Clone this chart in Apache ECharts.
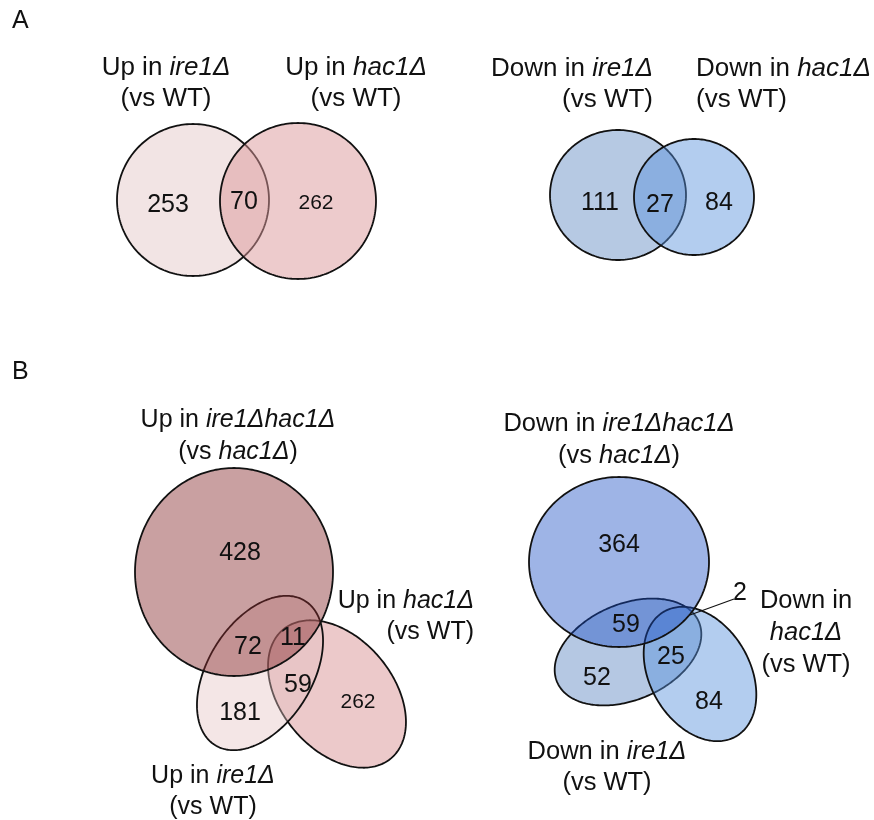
<!DOCTYPE html>
<html>
<head>
<meta charset="utf-8">
<script src="https://cdn.jsdelivr.net/npm/echarts@6/dist/echarts.min.js"></script>
<style>
  html, body { margin: 0; padding: 0; background: #ffffff; }
  #chart { width: 874px; height: 820px; }
</style>
</head>
<body>
<div id="chart"></div>
<script>
// ---- Gene counts per Venn region ----
// A, up vs WT: [ire1Δ only, ire1Δ ∩ hac1Δ, hac1Δ only]
const upPairCounts = [253, 70, 262];
// A, down vs WT: [ire1Δ only, ire1Δ ∩ hac1Δ, hac1Δ only]
const downPairCounts = [111, 27, 84];
// B, up: [ire1Δhac1Δ only, ire1Δhac1Δ ∩ ire1Δ, all three, ire1Δ only, ire1Δ ∩ hac1Δ, hac1Δ only]
const upTripleCounts = [428, 72, 11, 181, 59, 262];
// B, down: [ire1Δhac1Δ only, ire1Δhac1Δ ∩ ire1Δ, all three, ire1Δ only, ire1Δ ∩ hac1Δ, hac1Δ only]
const downTripleCounts = [364, 59, 2, 52, 25, 84];

// ---- Set names (one entry per text line, {i|...} = italic genotype) ----
const upPairNames = [['Up in {i|ire1Δ}', '(vs WT)'], ['Up in {i|hac1Δ}', '(vs WT)']];
const downPairNames = [['Down in {i|ire1Δ}', '(vs WT)'], ['Down in {i|hac1Δ}', '(vs WT)']];
const upTripleNames = [['Up in {i|ire1Δhac1Δ}', '(vs {i|hac1Δ})'], ['Up in {i|hac1Δ}', '(vs WT)'], ['Up in {i|ire1Δ}', '(vs WT)']];
const downTripleNames = [['Down in {i|ire1Δhac1Δ}', '(vs {i|hac1Δ})'], ['Down in', '{i|hac1Δ}', '(vs WT)'], ['Down in {i|ire1Δ}', '(vs WT)']];
const panelLetters = ['A', 'B'];

// ---- Diagram layout (plot units = pixels of the 874 x 820 canvas) ----
const FONT = '"Liberation Sans", Arial, Helvetica, sans-serif';
const STROKE = '#111111';

// Ellipses in drawing order: centre, semi-axes, rotation (deg, clockwise)
const shapes = [
  // A, up
  { cx: 193, cy: 200, rx: 76, ry: 76, rot: 0, fill: '#f2e4e4' },
  { cx: 298, cy: 201, rx: 78, ry: 78, rot: 0, fill: 'rgba(219,152,154,0.5)' },
  // A, down
  { cx: 618, cy: 195, rx: 68, ry: 65, rot: 0, fill: '#b6c9e3' },
  { cx: 694, cy: 197, rx: 60, ry: 58, rot: 0, fill: 'rgba(86,144,219,0.45)' },
  // B, up: hac1Δ, ire1Δ, ire1Δhac1Δ
  { cx: 337, cy: 694, rx: 84, ry: 56, rot: 50, fill: '#ecc9ca' },
  { cx: 260, cy: 673, rx: 85, ry: 52, rot: -58, fill: 'rgba(228,192,192,0.4)' },
  { cx: 234, cy: 572, rx: 99, ry: 104, rot: 0, fill: 'rgba(135,44,46,0.45)' },
  // B, down: ire1Δ, hac1Δ, ire1Δhac1Δ
  { cx: 628, cy: 652, rx: 77, ry: 48, rot: -23, fill: '#b5c8e3' },
  { cx: 700, cy: 674, rx: 72, ry: 50, rot: 60, fill: 'rgba(86,144,219,0.45)' },
  { cx: 619, cy: 562, rx: 90, ry: 85, rot: 0, fill: 'rgba(24,76,196,0.42)' }
];

// Count label anchor points (x, y, font size), aligned with the count arrays
const upPairPos = [[168, 205, 25], [244, 202, 25], [316, 203, 21]];
const downPairPos = [[600, 203, 25], [660, 205, 25], [719, 203, 25]];
const upTriplePos = [[240, 553, 25], [248, 647, 25], [293, 638, 25], [240, 713, 25], [298, 685, 25], [358, 702, 21]];
const downTriplePos = [[619, 545, 25], [626, 625, 25], [740, 593, 25], [597, 678, 25], [671, 657, 25], [709, 702, 25]];

// Set-name anchors: x, y of first line, line step, alignment, font size
const upPairNamePos = [[166, 68, 31, 'center', 26], [356, 68, 31, 'center', 26]];
const downPairNamePos = [[653, 69, 31, 'right', 26], [696, 69, 31, 'left', 26]];
const upTripleNamePos = [[238, 420, 32, 'center', 25], [474, 601, 31, 'right', 25], [213, 776, 31, 'center', 25]];
const downTripleNamePos = [[619, 424, 32, 'center', 25.5], [806, 601, 32, 'center', 25.5], [607, 752, 31, 'center', 25.5]];
const letterPos = [[12, 21], [12, 372]];

// Leader from the "2" label to the small three-way region
const leader = [[734, 599], [690, 615]];

// ---- Build series data ----
const countItems = [];
[[upPairCounts, upPairPos], [downPairCounts, downPairPos],
 [upTripleCounts, upTriplePos], [downTripleCounts, downTriplePos]].forEach(([counts, pos]) => {
  counts.forEach((v, k) => countItems.push([pos[k][0], pos[k][1], v, pos[k][2]]));
});

const nameItems = [];
[[upPairNames, upPairNamePos], [downPairNames, downPairNamePos],
 [upTripleNames, upTripleNamePos], [downTripleNames, downTripleNamePos]].forEach(([names, pos]) => {
  names.forEach((lines, k) => {
    lines.forEach((line, j) => {
      nameItems.push({ value: [pos[k][0], pos[k][1] + j * pos[k][2]], text: line, align: pos[k][3], size: pos[k][4] });
    });
  });
});

function ellipsePoints(api, s) {
  const pts = [];
  const th = s.rot * Math.PI / 180;
  const c = Math.cos(th), sn = Math.sin(th);
  const n = 240;
  for (let k = 0; k < n; k++) {
    const t = (k / n) * 2 * Math.PI;
    const ex = s.rx * Math.cos(t), ey = s.ry * Math.sin(t);
    pts.push(api.coord([s.cx + ex * c - ey * sn, s.cy + ex * sn + ey * c]));
  }
  return pts;
}

const richItalic = (size) => ({ i: { fontStyle: 'italic', fontSize: size, fontFamily: FONT, fill: '#111' } });

const chart = echarts.init(document.getElementById('chart'), null, { renderer: 'canvas' });
chart.setOption({
  backgroundColor: '#ffffff',
  animation: false,
  grid: { left: 0, right: 0, top: 0, bottom: 0 },
  xAxis: { type: 'value', min: 0, max: 874, show: false },
  yAxis: { type: 'value', min: 0, max: 820, inverse: true, show: false },
  series: [
    {
      // set outlines and fills
      type: 'custom',
      silent: true,
      data: shapes.map((s, i) => [s.cx, s.cy, i]),
      renderItem: (params, api) => {
        const s = shapes[params.dataIndex];
        return {
          type: 'polygon',
          z2: params.dataIndex,
          shape: { points: ellipsePoints(api, s) },
          style: { fill: s.fill, stroke: STROKE, lineWidth: 1.8 }
        };
      }
    },
    {
      // leader line for the smallest region
      type: 'custom',
      silent: true,
      z: 3,
      data: [[leader[0][0], leader[0][1], leader[1][0], leader[1][1]]],
      renderItem: (params, api) => {
        const a = api.coord([api.value(0), api.value(1)]);
        const b = api.coord([api.value(2), api.value(3)]);
        return {
          type: 'line',
          shape: { x1: a[0], y1: a[1], x2: b[0], y2: b[1] },
          style: { stroke: STROKE, lineWidth: 1.2 }
        };
      }
    },
    {
      // region counts
      type: 'custom',
      silent: true,
      z: 4,
      data: countItems,
      renderItem: (params, api) => {
        const p = api.coord([api.value(0), api.value(1)]);
        return {
          type: 'text',
          x: p[0], y: p[1],
          style: {
            text: String(api.value(2)),
            fontSize: api.value(3), fontFamily: FONT, fill: '#111',
            align: 'center', verticalAlign: 'middle'
          }
        };
      }
    },
    {
      // set names
      type: 'custom',
      silent: true,
      z: 4,
      data: nameItems,
      renderItem: (params, api) => {
        const it = nameItems[params.dataIndex];
        const p = api.coord(it.value);
        return {
          type: 'text',
          x: p[0], y: p[1],
          style: {
            text: it.text, rich: richItalic(it.size),
            fontSize: it.size, fontFamily: FONT, fill: '#111',
            align: it.align, verticalAlign: 'middle'
          }
        };
      }
    },
    {
      // panel letters
      type: 'custom',
      silent: true,
      z: 4,
      data: letterPos.map((p, i) => [p[0], p[1], i]),
      renderItem: (params, api) => {
        const p = api.coord([api.value(0), api.value(1)]);
        return {
          type: 'text',
          x: p[0], y: p[1],
          style: {
            text: panelLetters[params.dataIndex],
            fontSize: 25, fontFamily: FONT, fill: '#111',
            align: 'left', verticalAlign: 'middle'
          }
        };
      }
    }
  ]
});
</script>
</body>
</html>
